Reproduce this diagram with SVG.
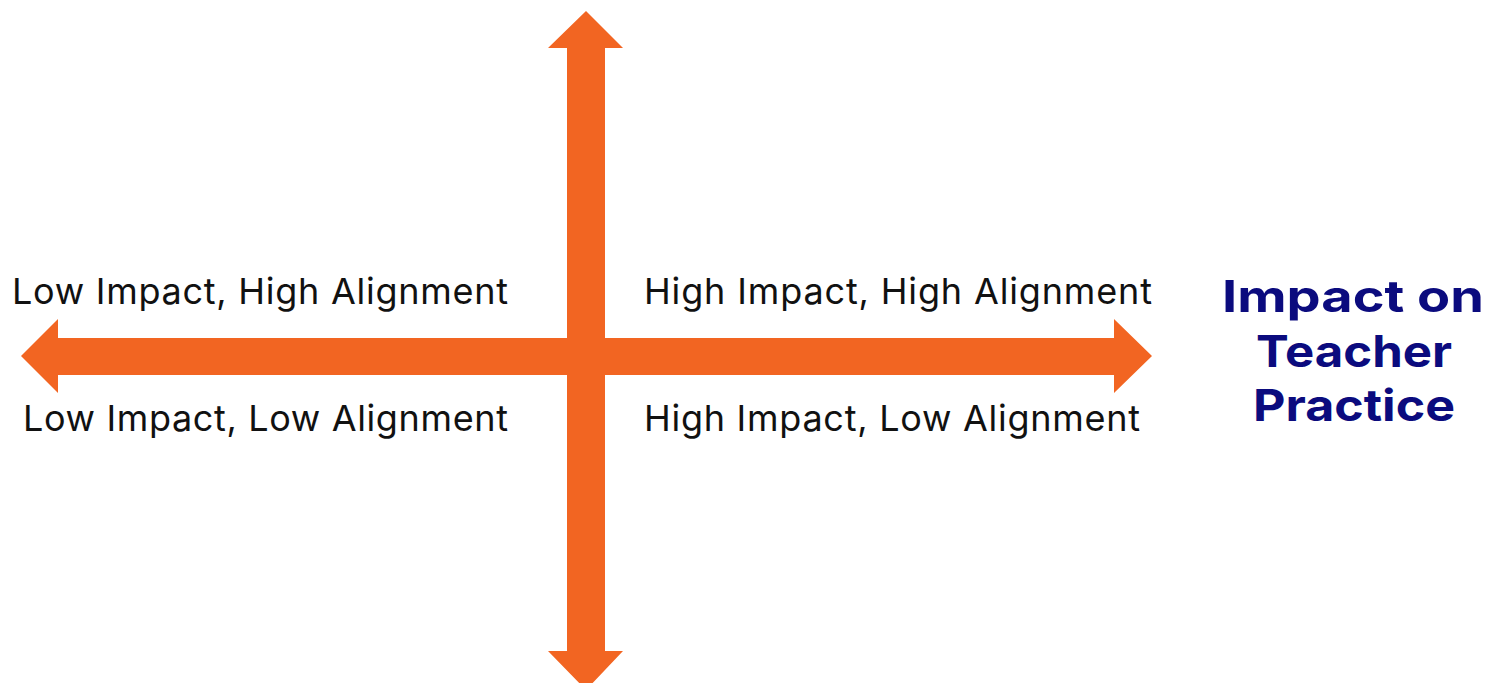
<svg xmlns="http://www.w3.org/2000/svg" width="1503" height="683" viewBox="0 0 1503 683">
<style>
.arrow{fill:#F26522}
.lbl{font-family:Inter,"Noto Sans",sans-serif;font-size:36px;fill:#111}
.ttl{font-family:Inter,"Noto Sans",sans-serif;font-size:44px;font-weight:700;fill:#0B0B7E}
</style>
<rect width="1503" height="683" fill="#fff"/>
<g id="connectors">
<polygon class="arrow" points="586,11 623,48 605,48 605,338 1114,338 1114,319 1152,356 1114,393 1114,375 605,375 605,651 623,651 586,690 548,651 567,651 567,375 58,375 58,393 21,356 58,319 58,338 567,338 567,48 548,48"/>
</g>
<g id="q-low-high"><text class="lbl" x="12" y="304" textLength="496" lengthAdjust="spacing">Low Impact, High Alignment</text></g>
<g id="q-high-high"><text class="lbl" x="644" y="304" textLength="508" lengthAdjust="spacing">High Impact, High Alignment</text></g>
<g id="q-low-low"><text class="lbl" x="23" y="431" textLength="485" lengthAdjust="spacing">Low Impact, Low Alignment</text></g>
<g id="q-high-low"><text class="lbl" x="644" y="431" textLength="496" lengthAdjust="spacing">High Impact, Low Alignment</text></g>
<g id="axis-title">
<text class="ttl" x="1222" y="312" textLength="262" lengthAdjust="spacingAndGlyphs">Impact on</text>
<text class="ttl" x="1256" y="367" textLength="196" lengthAdjust="spacingAndGlyphs">Teacher</text>
<text class="ttl" x="1253" y="421" textLength="202" lengthAdjust="spacingAndGlyphs">Practice</text>
</g>
</svg>
